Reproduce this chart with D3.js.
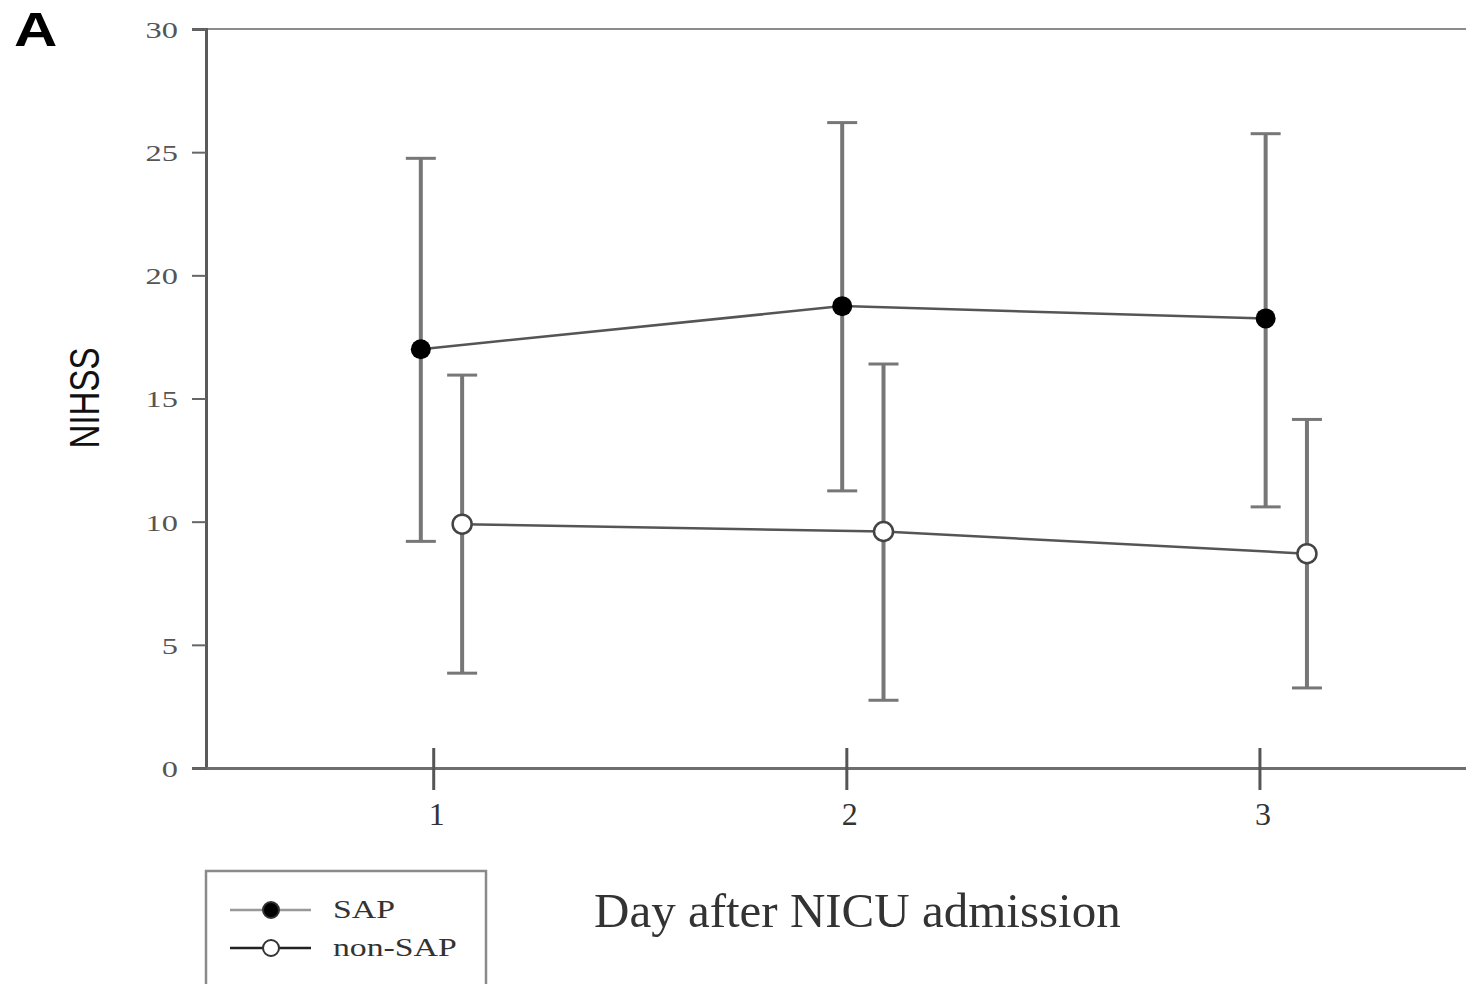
<!DOCTYPE html>
<html>
<head>
<meta charset="utf-8">
<script src="https://cdn.jsdelivr.net/npm/d3@7"></script>
<style>
  html, body { margin: 0; padding: 0; background: #fff; }
  svg { display: block; }
</style>
</head>
<body>
<svg id="chart" width="1466" height="984"></svg>
<script>
// NIHSS over the first three days after NICU admission, SAP vs non-SAP (mean ± SD)
const days = [1, 2, 3];
const dayLabels = ["1", "2", "3"];
const yTicks = [0, 5, 10, 15, 20, 25, 30];

// plotted day positions (groups are dodged around each day)
const sapDay = [0.97, 1.99, 3.015];
const nonSapDay = [1.07, 2.09, 3.115];

const sapMean = [17.0, 18.75, 18.25];
const sapUpper = [24.75, 26.2, 25.75];
const sapLower = [9.2, 11.25, 10.6];

const nonSapMean = [9.9, 9.6, 8.7];
const nonSapUpper = [15.95, 16.4, 14.15];
const nonSapLower = [3.85, 2.75, 3.25];

const svg = d3.select("#chart");

const x = d3.scaleLinear().domain([0.45, 3.5]).range([206, 1466]);
const y = d3.scaleLinear().domain([0, 30]).range([768, 29]);

const serif = "'Liberation Serif', 'DejaVu Serif', serif";
const sans = "'Liberation Sans', Arial, sans-serif";

// top frame line
svg.append("line")
  .attr("x1", 192).attr("x2", 1466)
  .attr("y1", y(30)).attr("y2", y(30))
  .attr("stroke", "#8c8c8c").attr("stroke-width", 2);

// y axis
const yAxis = svg.append("g").attr("transform", `translate(${x(0.45)},0)`)
  .call(d3.axisLeft(y).tickValues(yTicks).tickSize(14).tickPadding(14));
yAxis.select(".domain").attr("stroke", "#5a5a5a").attr("stroke-width", 3);
yAxis.selectAll(".tick line").attr("stroke", "#666").attr("stroke-width", 2);
yAxis.selectAll(".tick text")
  .attr("font-family", serif).attr("font-size", 24).attr("fill", "#555")
  .attr("dy", "0.35em")
  .each(function () {
    const t = d3.select(this);
    const xx = +t.attr("x");
    t.attr("x", null).attr("transform", `translate(${xx},0) scale(1.35,1)`);
  });

// x axis with ticks crossing the line
const xAxis = svg.append("g").attr("transform", `translate(0,${y(0)})`)
  .call(d3.axisBottom(x).tickValues(days).tickFormat((d, i) => dayLabels[i])
    .tickSizeInner(0).tickSizeOuter(0).tickPadding(34));
xAxis.select(".domain").attr("stroke", "#6e6e6e").attr("stroke-width", 3);
xAxis.selectAll(".tick line")
  .attr("y1", -20).attr("y2", 22)
  .attr("stroke", "#555").attr("stroke-width", 3);
xAxis.selectAll(".tick text")
  .attr("font-family", serif).attr("font-size", 32).attr("fill", "#333")
  .attr("dx", 3);

// error bars
const capHalf = 15;
function errorBars(xs, lo, hi, cls) {
  const g = svg.append("g").attr("class", cls);
  const idx = d3.range(xs.length);
  g.selectAll("line.stem").data(idx).join("line").attr("class", "stem")
    .attr("x1", i => x(xs[i])).attr("x2", i => x(xs[i]))
    .attr("y1", i => y(hi[i])).attr("y2", i => y(lo[i]))
    .attr("stroke", "#777").attr("stroke-width", 4);
  g.selectAll("line.capTop").data(idx).join("line").attr("class", "capTop")
    .attr("x1", i => x(xs[i]) - capHalf).attr("x2", i => x(xs[i]) + capHalf)
    .attr("y1", i => y(hi[i])).attr("y2", i => y(hi[i]))
    .attr("stroke", "#777").attr("stroke-width", 3);
  g.selectAll("line.capBot").data(idx).join("line").attr("class", "capBot")
    .attr("x1", i => x(xs[i]) - capHalf).attr("x2", i => x(xs[i]) + capHalf)
    .attr("y1", i => y(lo[i])).attr("y2", i => y(lo[i]))
    .attr("stroke", "#777").attr("stroke-width", 3);
}
errorBars(sapDay, sapLower, sapUpper, "sap-err");
errorBars(nonSapDay, nonSapLower, nonSapUpper, "nonsap-err");

// connecting lines
const line = d3.line();
svg.append("path")
  .attr("d", line(sapDay.map((d, i) => [x(d), y(sapMean[i])])))
  .attr("fill", "none").attr("stroke", "#555").attr("stroke-width", 2.5);
svg.append("path")
  .attr("d", line(nonSapDay.map((d, i) => [x(d), y(nonSapMean[i])])))
  .attr("fill", "none").attr("stroke", "#555").attr("stroke-width", 2.5);

// markers
svg.append("g").selectAll("circle").data(sapMean).join("circle")
  .attr("cx", (d, i) => x(sapDay[i])).attr("cy", d => y(d)).attr("r", 10)
  .attr("fill", "#000");
svg.append("g").selectAll("circle").data(nonSapMean).join("circle")
  .attr("cx", (d, i) => x(nonSapDay[i])).attr("cy", d => y(d)).attr("r", 9.5)
  .attr("fill", "#fff").attr("stroke", "#444").attr("stroke-width", 2.5);

// y axis title
svg.append("text")
  .attr("transform", `translate(99,398) rotate(-90) scale(1,1.3)`)
  .attr("text-anchor", "middle")
  .attr("font-family", sans).attr("font-size", 33).attr("fill", "#111")
  .text("NIHSS");

// x axis title
svg.append("text")
  .attr("x", 594).attr("y", 927)
  .attr("font-family", serif).attr("font-size", 49).attr("fill", "#333")
  .text("Day after NICU admission");

// panel letter
svg.append("text")
  .attr("transform", "translate(14,46) scale(1.25,1)")
  .attr("font-family", sans).attr("font-weight", "bold")
  .attr("font-size", 48).attr("fill", "#000")
  .text("A");

// legend
const legend = svg.append("g");
legend.append("rect")
  .attr("x", 206).attr("y", 871).attr("width", 280).attr("height", 140)
  .attr("fill", "none").attr("stroke", "#8a8a8a").attr("stroke-width", 2.5);
const legendItems = [
  { label: "SAP", fill: "#000", yy: 910 },
  { label: "non-SAP", fill: "#fff", yy: 948 }
];
legend.selectAll("line.key").data(legendItems).join("line").attr("class", "key")
  .attr("x1", 230).attr("x2", 311)
  .attr("y1", d => d.yy).attr("y2", d => d.yy)
  .attr("stroke", (d, i) => i === 0 ? "#999" : "#222").attr("stroke-width", 2.5);
legend.selectAll("circle").data(legendItems).join("circle")
  .attr("cx", 271).attr("cy", d => d.yy).attr("r", 8)
  .attr("fill", d => d.fill).attr("stroke", "#333").attr("stroke-width", 2);
legend.selectAll("text").data(legendItems).join("text")
  .attr("transform", d => `translate(333,${d.yy + 8}) scale(1.35,1)`)
  .attr("font-family", serif).attr("font-size", 25).attr("fill", "#333")
  .text(d => d.label);
</script>
</body>
</html>
